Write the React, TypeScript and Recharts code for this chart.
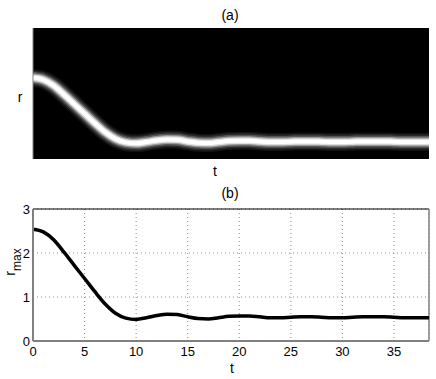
import React from "react";
import {
  LineChart,
  Line,
  XAxis,
  YAxis,
  CartesianGrid,
  ReferenceArea,
  ReferenceLine,
} from "recharts";

// time samples and peak radius
const tValues = [
  0, 1, 2, 3, 4, 5, 6, 7, 8, 9, 10, 11, 12, 13, 14, 15, 16, 17, 18, 19, 20,
  21, 22, 23, 24, 25, 26, 27, 28, 29, 30, 31, 32, 33, 34, 35, 36, 37, 38.4,
];
const rmaxValues = [
  2.54, 2.48, 2.3, 2.02, 1.72, 1.42, 1.12, 0.84, 0.63, 0.52, 0.49, 0.53, 0.58,
  0.61, 0.6, 0.55, 0.51, 0.5, 0.53, 0.56, 0.57, 0.57, 0.55, 0.53, 0.53, 0.54,
  0.55, 0.55, 0.54, 0.53, 0.53, 0.54, 0.55, 0.55, 0.55, 0.54, 0.53, 0.53, 0.53,
];
const xTicks = [0, 5, 10, 15, 20, 25, 30, 35];
const yTicks = [0, 1, 2, 3];
const tMax = 38.4;
const rTop = 4.1;

// glow layers for the density image in panel (a): width, colour
const glowLayers: [number, string][] = [
  [18, "#111"],
  [15, "#2a2a2a"],
  [12, "#555"],
  [9, "#999"],
  [6.5, "#ddd"],
  [4, "#fff"],
];

const data = tValues.map((t, i) => ({ t, r: rmaxValues[i] }));

const font = "'Liberation Sans', Arial, sans-serif";

const Txt = ({ x, y, children }: { x: number; y: number; children: React.ReactNode }) => (
  <div
    style={{
      position: "absolute",
      left: x,
      top: y,
      transform: "translate(-50%, -50%)",
      fontFamily: font,
      fontSize: 14,
      lineHeight: "14px",
      color: "#000",
      whiteSpace: "nowrap",
    }}
  >
    {children}
  </div>
);

// coordinates are inside the (b) chart, which starts at page y = 180
const RmaxLabel = () => (
  <text
    x={15}
    y={82}
    transform="rotate(-90, 15, 82)"
    textAnchor="middle"
    fontFamily={font}
    fontSize={14}
    fill="#000"
  >
    <tspan>r</tspan>
    <tspan dy={6} fontSize={12}>max</tspan>
  </text>
);

export default function App() {
  return (
    <div
      style={{
        position: "absolute",
        left: 0,
        top: 0,
        width: 436,
        height: 379,
        background: "#fff",
        overflow: "hidden",
      }}
    >
      <Txt x={230} y={15}>(a)</Txt>
      <Txt x={20} y={97}>r</Txt>
      <Txt x={215} y={171}>t</Txt>

      <div style={{ position: "absolute", left: 0, top: 0 }}>
        <LineChart
          width={436}
          height={180}
          data={data}
          margin={{ top: 28, right: 7, bottom: 21, left: 33 }}
        >
          <XAxis dataKey="t" type="number" domain={[0, tMax]} hide allowDataOverflow />
          <YAxis type="number" domain={[0, rTop]} hide allowDataOverflow />
          <ReferenceArea x1={0} x2={tMax} y1={0} y2={rTop} fill="#000" fillOpacity={1} stroke="none" />
          {glowLayers.map(([w, c], i) => (
            <Line
              key={i}
              dataKey="r"
              type="monotone"
              stroke={c}
              strokeWidth={w}
              strokeLinecap="butt"
              dot={false}
              activeDot={false}
              isAnimationActive={false}
            />
          ))}
          <ReferenceLine x={0} stroke="#808080" strokeWidth={1} />
        </LineChart>
      </div>

      <Txt x={230} y={193}>(b)</Txt>
      <Txt x={232} y={368}>t</Txt>

      <div style={{ position: "absolute", left: 0, top: 180 }}>
        <LineChart
          width={436}
          height={199}
          data={data}
          margin={{ top: 29, right: 7, bottom: 0, left: 0 }}
        >
          <CartesianGrid stroke="#8a8a8a" strokeDasharray="1 3" />
          <XAxis
            dataKey="t"
            type="number"
            domain={[0, tMax]}
            ticks={xTicks}
            allowDataOverflow
            height={38}
            tickLine={false}
            tickSize={0}
            tickMargin={6}
            axisLine={{ stroke: "#808080", strokeWidth: 2 }}
            tick={{ fill: "#000", fontFamily: font, fontSize: 13 }}
            interval={0}
          />
          <YAxis
            type="number"
            domain={[0, 3]}
            ticks={yTicks}
            width={33}
            tickLine={false}
            tickSize={0}
            tickMargin={3}
            axisLine={{ stroke: "#808080", strokeWidth: 2 }}
            tick={{ fill: "#000", fontFamily: font, fontSize: 13 }}
            interval={0}
            label={{ content: () => <RmaxLabel /> }}
          />
          <ReferenceLine y={3} stroke="#000" strokeWidth={1} />
          <ReferenceLine x={tMax} stroke="#808080" strokeWidth={1.5} />
          <Line
            dataKey="r"
            type="monotone"
            stroke="#000"
            strokeWidth={3.5}
            dot={false}
            activeDot={false}
            isAnimationActive={false}
          />
        </LineChart>
      </div>
    </div>
  );
}
